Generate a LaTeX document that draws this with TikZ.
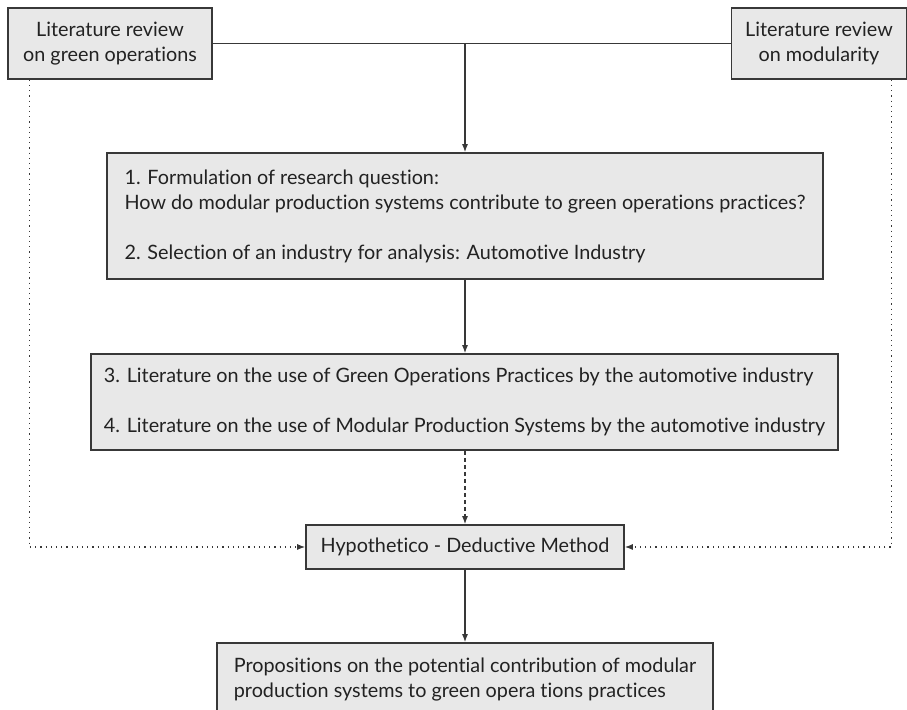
\documentclass[tikz,border=0pt]{standalone}
\usepackage{fontspec}
\setmainfont{Lato}[Ligatures={NoCommon}]
\usetikzlibrary{arrows.meta}

\definecolor{boxfill}{HTML}{E8E8E8}
\definecolor{boxline}{HTML}{383838}
\definecolor{inkgray}{HTML}{222222}

\begin{document}
\begin{tikzpicture}[x=0.5pt,y=-0.5pt,
  box/.style={draw=boxline,fill=boxfill,line width=0.8pt,inner sep=0pt,
    text=inkgray,font=\fontsize{9.9}{12.5}\selectfont},
  arr/.style={-{Latex[length=4pt,width=3pt]},line width=0.6pt,draw=boxline},
  dotarr/.style={arr,dotted},
  dasharr/.style={arr,dash pattern=on 2pt off 1.5pt}]
  \useasboundingbox (0,0) rectangle (907,710);

  % Literature reviews
  \node[box,minimum width=102pt,minimum height=35.5pt,align=center] (litgreen) at (110,43.5)
    {Literature review\\on green operations};
  \node[box,minimum width=87.5pt,minimum height=35.5pt,align=center] (litmod) at (819,43.5)
    {Literature review\\on modularity};

  % Research question
  \node[box,minimum width=358pt,minimum height=63pt,align=left] (question) at (465,216)
    {1. Formulation of research question:\\
     How do modular production systems contribute to green operations practices?\\[12.5pt]
     2. Selection of an industry for analysis: Automotive Industry};

  % Automotive literature
  \node[box,minimum width=373.5pt,minimum height=48pt,align=left] (automotive) at (464.5,402)
    {3. Literature on the use of Green Operations Practices by the automotive industry\\[12.5pt]
     4. Literature on the use of Modular Production Systems by the automotive industry};

  % Method
  \node[box,minimum width=159pt,minimum height=22pt] (method) at (465,547)
    {Hypothetico - Deductive Method};

  % Propositions
  \node[box,minimum width=248pt,minimum height=37pt,align=left] (propositions) at (465,680)
    {Propositions on the potential contribution of modular\\
     production systems to green opera tions practices};

  % Connectors
  \draw[line width=0.6pt,draw=boxline] (litgreen) -- (litmod);
  \draw[arr] (litgreen.east -| question.north) -- (question.north);
  \draw[arr] (question.south) -- (question.south |- automotive.north);
  \draw[dasharr] (automotive.south -| method.north) -- (method.north);
  \draw[dotarr] ([xshift=11pt]litgreen.south west) |- (method.west);
  \draw[dotarr] ([xshift=-8pt]litmod.south east) |- (method.east);
  \draw[arr] (method) -- (propositions);
\end{tikzpicture}
\end{document}
